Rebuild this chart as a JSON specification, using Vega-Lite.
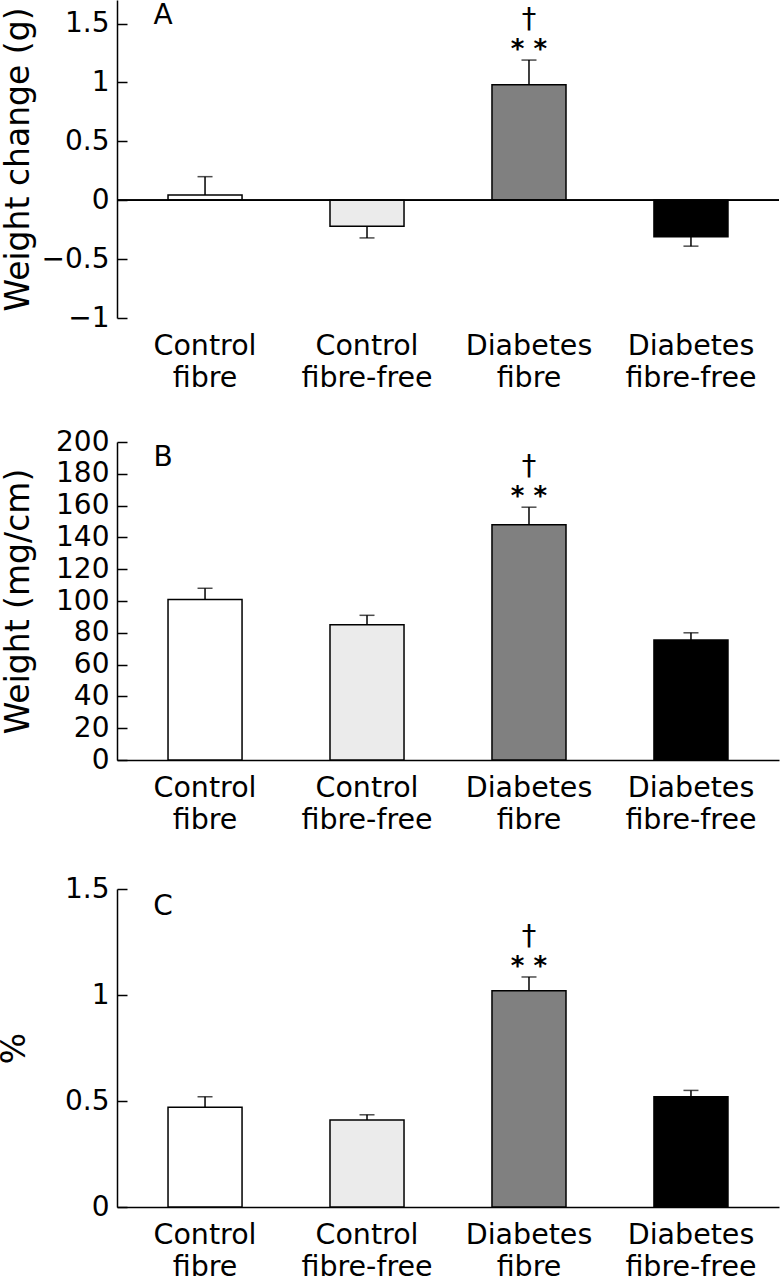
{
  "$schema": "https://vega.github.io/schema/vega-lite/v6.json",
  "padding": {"left": -2, "top": 0, "right": 0, "bottom": 0},
  "background": "white",
  "datasets": {
    "a": [
      {"group": "Control fibre", "value": 0.045, "err": 0.2},
      {"group": "Control fibre-free", "value": -0.22, "err": -0.32},
      {"group": "Diabetes fibre", "value": 0.98, "err": 1.19, "sig": "* *", "dag": "†"},
      {"group": "Diabetes fibre-free", "value": -0.31, "err": -0.39}
    ],
    "b": [
      {"group": "Control fibre", "value": 101, "err": 108},
      {"group": "Control fibre-free", "value": 85, "err": 91},
      {"group": "Diabetes fibre", "value": 148, "err": 159, "sig": "* *", "dag": "†"},
      {"group": "Diabetes fibre-free", "value": 75.5, "err": 80}
    ],
    "c": [
      {"group": "Control fibre", "value": 0.47, "err": 0.52},
      {"group": "Control fibre-free", "value": 0.41, "err": 0.435},
      {"group": "Diabetes fibre", "value": 1.02, "err": 1.085, "sig": "* *", "dag": "†"},
      {"group": "Diabetes fibre-free", "value": 0.52, "err": 0.55}
    ]
  },
  "bounds": "flush",
  "spacing": 124,
  "vconcat": [
    {
      "width": 662,
      "height": 318,
      "data": {"name": "a"},
      "layer": [
        {
          "mark": {"type": "bar", "stroke": "black", "strokeWidth": 1.5},
          "encoding": {
            "x": {"field": "group", "type": "nominal", "title": null, "scale": {"domain": ["Control fibre", "Control fibre-free", "Diabetes fibre", "Diabetes fibre-free"], "paddingInner": 0.543, "paddingOuter": 0.315}, "axis": {"labelExpr": "split(datum.label, ' ')", "domain": false}},
            "y": {"field": "value", "type": "quantitative", "scale": {"domain": [-1, 1.7], "nice": false, "zero": false}, "axis": {"title": "Weight change (g)", "values": [-1, -0.5, 0, 0.5, 1, 1.5], "tickCount": 6, "format": "~f", "titleX": -99, "labelOverlap": false}},
            "fill": {"field": "group", "type": "nominal", "scale": {"domain": ["Control fibre", "Control fibre-free", "Diabetes fibre", "Diabetes fibre-free"], "range": ["#ffffff", "#ebebeb", "#808080", "#000000"]}, "legend": null}
          }
        },
        {
          "mark": {"type": "rule", "color": "black", "strokeWidth": 1.5},
          "encoding": {
            "x": {"field": "group", "type": "nominal", "title": null, "scale": {"domain": ["Control fibre", "Control fibre-free", "Diabetes fibre", "Diabetes fibre-free"], "paddingInner": 0.543, "paddingOuter": 0.315}},
            "y": {"field": "value", "type": "quantitative", "scale": {"domain": [-1, 1.7], "nice": false, "zero": false}},
            "y2": {"field": "err"}
          }
        },
        {
          "mark": {"type": "tick", "color": "black", "size": 15, "thickness": 1.5},
          "encoding": {
            "x": {"field": "group", "type": "nominal", "title": null, "scale": {"domain": ["Control fibre", "Control fibre-free", "Diabetes fibre", "Diabetes fibre-free"], "paddingInner": 0.543, "paddingOuter": 0.315}},
            "y": {"field": "err", "type": "quantitative", "scale": {"domain": [-1, 1.7], "nice": false, "zero": false}}
          }
        },
        {
          "mark": {"type": "rule", "color": "black", "strokeWidth": 1.5},
          "encoding": {
            "y": {"datum": 0, "type": "quantitative", "scale": {"domain": [-1, 1.7], "nice": false, "zero": false}}
          }
        },
        {
          "transform": [{"filter": "datum.sig"}],
          "mark": {"type": "text", "fontSize": 26, "fontWeight": "bold", "baseline": "alphabetic", "align": "center", "dy": -2, "color": "black"},
          "encoding": {
            "x": {"field": "group", "type": "nominal", "title": null, "scale": {"domain": ["Control fibre", "Control fibre-free", "Diabetes fibre", "Diabetes fibre-free"], "paddingInner": 0.543, "paddingOuter": 0.315}},
            "y": {"field": "err", "type": "quantitative", "scale": {"domain": [-1, 1.7], "nice": false, "zero": false}},
            "text": {"field": "sig"}
          }
        },
        {
          "transform": [{"filter": "datum.dag"}],
          "mark": {"type": "text", "fontSize": 29, "baseline": "alphabetic", "align": "center", "dy": -32, "color": "black"},
          "encoding": {
            "x": {"field": "group", "type": "nominal", "title": null, "scale": {"domain": ["Control fibre", "Control fibre-free", "Diabetes fibre", "Diabetes fibre-free"], "paddingInner": 0.543, "paddingOuter": 0.315}},
            "y": {"field": "err", "type": "quantitative", "scale": {"domain": [-1, 1.7], "nice": false, "zero": false}},
            "text": {"field": "dag"}
          }
        },
        {
          "data": {"values": [{"panel": "A"}]},
          "mark": {"type": "text", "fontSize": 28, "baseline": "middle", "align": "center", "dx": -42, "color": "black"},
          "encoding": {
            "x": {"datum": "Control fibre", "type": "nominal", "scale": {"domain": ["Control fibre", "Control fibre-free", "Diabetes fibre", "Diabetes fibre-free"], "paddingInner": 0.543, "paddingOuter": 0.315}},
            "y": {"datum": 1.56, "type": "quantitative", "scale": {"domain": [-1, 1.7], "nice": false, "zero": false}},
            "text": {"field": "panel"}
          }
        }
      ]
    },
    {
      "bounds": "flush",
      "spacing": 129,
      "vconcat": [
        {
          "width": 662,
          "height": 318,
          "data": {"name": "b"},
          "layer": [
            {
              "mark": {"type": "bar", "stroke": "black", "strokeWidth": 1.5},
              "encoding": {
                "x": {"field": "group", "type": "nominal", "title": null, "scale": {"domain": ["Control fibre", "Control fibre-free", "Diabetes fibre", "Diabetes fibre-free"], "paddingInner": 0.543, "paddingOuter": 0.315}, "axis": {"labelExpr": "split(datum.label, ' ')"}},
                "y": {"field": "value", "type": "quantitative", "scale": {"domain": [0, 200], "nice": false}, "axis": {"title": "Weight (mg/cm)", "values": [0, 20, 40, 60, 80, 100, 120, 140, 160, 180, 200], "tickCount": 11, "format": "d", "titleX": -99, "labelOverlap": false, "labelSeparation": 0}},
                "fill": {"field": "group", "type": "nominal", "scale": {"domain": ["Control fibre", "Control fibre-free", "Diabetes fibre", "Diabetes fibre-free"], "range": ["#ffffff", "#ebebeb", "#808080", "#000000"]}, "legend": null}
              }
            },
            {
              "mark": {"type": "rule", "color": "black", "strokeWidth": 1.5},
              "encoding": {
                "x": {"field": "group", "type": "nominal", "title": null, "scale": {"domain": ["Control fibre", "Control fibre-free", "Diabetes fibre", "Diabetes fibre-free"], "paddingInner": 0.543, "paddingOuter": 0.315}},
                "y": {"field": "value", "type": "quantitative", "scale": {"domain": [0, 200], "nice": false}},
                "y2": {"field": "err"}
              }
            },
            {
              "mark": {"type": "tick", "color": "black", "size": 15, "thickness": 1.5},
              "encoding": {
                "x": {"field": "group", "type": "nominal", "title": null, "scale": {"domain": ["Control fibre", "Control fibre-free", "Diabetes fibre", "Diabetes fibre-free"], "paddingInner": 0.543, "paddingOuter": 0.315}},
                "y": {"field": "err", "type": "quantitative", "scale": {"domain": [0, 200], "nice": false}}
              }
            },
            {
              "transform": [{"filter": "datum.sig"}],
              "mark": {"type": "text", "fontSize": 26, "fontWeight": "bold", "baseline": "alphabetic", "align": "center", "dy": -2, "color": "black"},
              "encoding": {
                "x": {"field": "group", "type": "nominal", "title": null, "scale": {"domain": ["Control fibre", "Control fibre-free", "Diabetes fibre", "Diabetes fibre-free"], "paddingInner": 0.543, "paddingOuter": 0.315}},
                "y": {"field": "err", "type": "quantitative", "scale": {"domain": [0, 200], "nice": false}},
                "text": {"field": "sig"}
              }
            },
            {
              "transform": [{"filter": "datum.dag"}],
              "mark": {"type": "text", "fontSize": 29, "baseline": "alphabetic", "align": "center", "dy": -32, "color": "black"},
              "encoding": {
                "x": {"field": "group", "type": "nominal", "title": null, "scale": {"domain": ["Control fibre", "Control fibre-free", "Diabetes fibre", "Diabetes fibre-free"], "paddingInner": 0.543, "paddingOuter": 0.315}},
                "y": {"field": "err", "type": "quantitative", "scale": {"domain": [0, 200], "nice": false}},
                "text": {"field": "dag"}
              }
            },
            {
              "data": {"values": [{"panel": "B"}]},
              "mark": {"type": "text", "fontSize": 28, "baseline": "middle", "align": "center", "dx": -42, "color": "black"},
              "encoding": {
                "x": {"datum": "Control fibre", "type": "nominal", "scale": {"domain": ["Control fibre", "Control fibre-free", "Diabetes fibre", "Diabetes fibre-free"], "paddingInner": 0.543, "paddingOuter": 0.315}},
                "y": {"datum": 189.7, "type": "quantitative", "scale": {"domain": [0, 200], "nice": false}},
                "text": {"field": "panel"}
              }
            }
          ]
        },
        {
          "width": 662,
          "height": 318,
          "data": {"name": "c"},
          "layer": [
            {
              "mark": {"type": "bar", "stroke": "black", "strokeWidth": 1.5},
              "encoding": {
                "x": {"field": "group", "type": "nominal", "title": null, "scale": {"domain": ["Control fibre", "Control fibre-free", "Diabetes fibre", "Diabetes fibre-free"], "paddingInner": 0.543, "paddingOuter": 0.315}, "axis": {"labelExpr": "split(datum.label, ' ')"}},
                "y": {"field": "value", "type": "quantitative", "scale": {"domain": [0, 1.5], "nice": false}, "axis": {"title": "%", "values": [0, 0.5, 1, 1.5], "tickCount": 4, "format": "~f", "titleX": -103, "labelOverlap": false}},
                "fill": {"field": "group", "type": "nominal", "scale": {"domain": ["Control fibre", "Control fibre-free", "Diabetes fibre", "Diabetes fibre-free"], "range": ["#ffffff", "#ebebeb", "#808080", "#000000"]}, "legend": null}
              }
            },
            {
              "mark": {"type": "rule", "color": "black", "strokeWidth": 1.5},
              "encoding": {
                "x": {"field": "group", "type": "nominal", "title": null, "scale": {"domain": ["Control fibre", "Control fibre-free", "Diabetes fibre", "Diabetes fibre-free"], "paddingInner": 0.543, "paddingOuter": 0.315}},
                "y": {"field": "value", "type": "quantitative", "scale": {"domain": [0, 1.5], "nice": false}},
                "y2": {"field": "err"}
              }
            },
            {
              "mark": {"type": "tick", "color": "black", "size": 15, "thickness": 1.5},
              "encoding": {
                "x": {"field": "group", "type": "nominal", "title": null, "scale": {"domain": ["Control fibre", "Control fibre-free", "Diabetes fibre", "Diabetes fibre-free"], "paddingInner": 0.543, "paddingOuter": 0.315}},
                "y": {"field": "err", "type": "quantitative", "scale": {"domain": [0, 1.5], "nice": false}}
              }
            },
            {
              "transform": [{"filter": "datum.sig"}],
              "mark": {"type": "text", "fontSize": 26, "fontWeight": "bold", "baseline": "alphabetic", "align": "center", "dy": -2, "color": "black"},
              "encoding": {
                "x": {"field": "group", "type": "nominal", "title": null, "scale": {"domain": ["Control fibre", "Control fibre-free", "Diabetes fibre", "Diabetes fibre-free"], "paddingInner": 0.543, "paddingOuter": 0.315}},
                "y": {"field": "err", "type": "quantitative", "scale": {"domain": [0, 1.5], "nice": false}},
                "text": {"field": "sig"}
              }
            },
            {
              "transform": [{"filter": "datum.dag"}],
              "mark": {"type": "text", "fontSize": 29, "baseline": "alphabetic", "align": "center", "dy": -32, "color": "black"},
              "encoding": {
                "x": {"field": "group", "type": "nominal", "title": null, "scale": {"domain": ["Control fibre", "Control fibre-free", "Diabetes fibre", "Diabetes fibre-free"], "paddingInner": 0.543, "paddingOuter": 0.315}},
                "y": {"field": "err", "type": "quantitative", "scale": {"domain": [0, 1.5], "nice": false}},
                "text": {"field": "dag"}
              }
            },
            {
              "data": {"values": [{"panel": "C"}]},
              "mark": {"type": "text", "fontSize": 28, "baseline": "middle", "align": "center", "dx": -42, "color": "black"},
              "encoding": {
                "x": {"datum": "Control fibre", "type": "nominal", "scale": {"domain": ["Control fibre", "Control fibre-free", "Diabetes fibre", "Diabetes fibre-free"], "paddingInner": 0.543, "paddingOuter": 0.315}},
                "y": {"datum": 1.415, "type": "quantitative", "scale": {"domain": [0, 1.5], "nice": false}},
                "text": {"field": "panel"}
              }
            }
          ]
        }
      ]
    }
  ],
  "config": {
    "font": "DejaVu Sans",
    "view": {"stroke": null},
    "axis": {
      "grid": false,
      "domainColor": "black",
      "domainWidth": 1.5,
      "tickColor": "black",
      "tickWidth": 1.5,
      "labelColor": "black",
      "titleColor": "black",
      "labelFont": "DejaVu Sans",
      "titleFont": "DejaVu Sans",
      "titleFontWeight": "normal"
    },
    "axisY": {
      "tickSize": -10,
      "labelPadding": 18,
      "labelFontSize": 28,
      "labelOverlap": false,
      "titleFontSize": 33,
      "titleBaseline": "middle"
    },
    "axisX": {
      "ticks": false,
      "tickSize": 0,
      "labelAngle": 0,
      "labelFontSize": 28.5,
      "labelLineHeight": 32,
      "labelPadding": 13
    }
  }
}
